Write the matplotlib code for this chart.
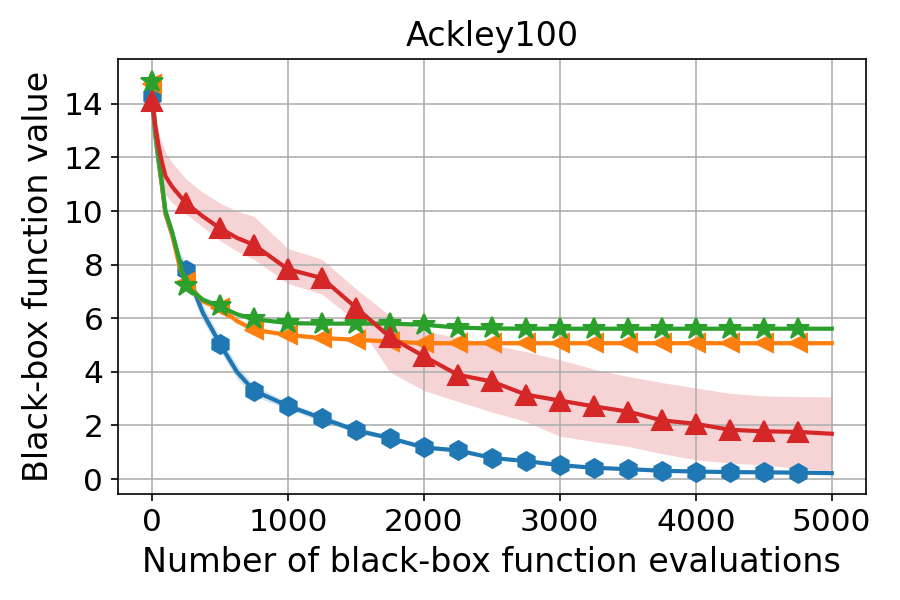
import numpy as np
import matplotlib.pyplot as plt

# evaluations at which the curves were read (dense at the start where they drop fast)
evals = [0, 25, 50, 75, 100, 150, 200, 250, 375, 500, 625, 750, 1000, 1250, 1500,
         1750, 2000, 2250, 2500, 2750, 3000, 3250, 3500, 3750, 4000, 4250, 4500,
         4750, 5000]

blue_mean = [14.3, 12.8, 11.8, 10.9, 9.9, 9.1, 8.2, 7.8, 6.2, 5.05, 4.0, 3.3, 2.73,
             2.27, 1.82, 1.53, 1.18, 1.07, 0.79, 0.67, 0.52, 0.42, 0.37, 0.31, 0.28,
             0.26, 0.25, 0.24, 0.22]
blue_lo = [14.2, 12.5, 11.5, 10.6, 9.6, 8.8, 7.9, 7.4, 5.9, 4.8, 3.75, 3.1, 2.6,
           2.15, 1.72, 1.45, 1.1, 1.0, 0.73, 0.62, 0.48, 0.38, 0.33, 0.28, 0.25,
           0.23, 0.22, 0.21, 0.19]
blue_hi = [14.4, 13.1, 12.1, 11.2, 10.2, 9.4, 8.5, 8.1, 6.5, 5.3, 4.25, 3.5, 2.86,
           2.4, 1.93, 1.62, 1.26, 1.14, 0.85, 0.72, 0.56, 0.46, 0.41, 0.34, 0.31,
           0.29, 0.28, 0.27, 0.25]

orange_mean = [14.75, 12.9, 11.9, 10.9, 9.9, 9.1, 8.0, 7.35, 6.63, 6.38, 5.9, 5.57,
               5.38, 5.26, 5.2, 5.13, 5.07, 5.07, 5.07, 5.07, 5.07, 5.07, 5.07,
               5.07, 5.07, 5.07, 5.07, 5.07, 5.07]
orange_lo = [14.7, 12.7, 11.7, 10.7, 9.7, 8.9, 7.8, 7.2, 6.5, 6.28, 5.8, 5.48,
             5.3, 5.18, 5.12, 5.06, 5.0, 5.0, 5.0, 5.0, 5.0, 5.0, 5.0, 5.0, 5.0,
             5.0, 5.0, 5.0, 5.0]
orange_hi = [14.8, 13.1, 12.1, 11.1, 10.1, 9.3, 8.2, 7.5, 6.76, 6.48, 6.0, 5.66,
             5.46, 5.34, 5.28, 5.2, 5.14, 5.14, 5.14, 5.14, 5.14, 5.14, 5.14, 5.14,
             5.14, 5.14, 5.14, 5.14, 5.14]

green_mean = [14.8, 13.0, 12.0, 11.0, 10.0, 9.2, 8.2, 7.2, 6.69, 6.44, 6.15, 5.97,
              5.82, 5.8, 5.8, 5.8, 5.76, 5.65, 5.62, 5.61, 5.61, 5.61, 5.61, 5.61,
              5.61, 5.61, 5.61, 5.61, 5.61]
green_lo = [14.75, 12.8, 11.8, 10.8, 9.8, 9.0, 8.0, 7.05, 6.57, 6.34, 6.06, 5.9,
            5.75, 5.73, 5.73, 5.73, 5.7, 5.59, 5.56, 5.55, 5.55, 5.55, 5.55, 5.55,
            5.55, 5.55, 5.55, 5.55, 5.55]
green_hi = [14.85, 13.2, 12.2, 11.2, 10.2, 9.4, 8.4, 7.35, 6.81, 6.54, 6.24, 6.04,
            5.89, 5.87, 5.87, 5.87, 5.82, 5.71, 5.68, 5.67, 5.67, 5.67, 5.67, 5.67,
            5.67, 5.67, 5.67, 5.67, 5.67]

red_mean = [14.1, 13.2, 12.4, 11.8, 11.3, 10.9, 10.6, 10.3, 9.8, 9.36, 9.0, 8.74,
            7.83, 7.5, 6.4, 5.3, 4.58, 3.89, 3.64, 3.15, 2.93, 2.71, 2.52, 2.19,
            2.06, 1.84, 1.78, 1.76, 1.69]
red_lo = [14.0, 12.6, 11.7, 11.0, 10.6, 10.3, 10.1, 9.9, 9.4, 8.9, 8.5, 8.2, 7.3,
          6.9, 5.9, 4.0, 3.3, 2.9, 2.5, 2.15, 1.6, 1.4, 1.22, 0.95, 0.72, 0.6,
          0.53, 0.4, 0.3]
red_hi = [14.3, 13.6, 12.9, 12.5, 12.2, 11.8, 11.5, 11.2, 10.7, 10.3, 10.0, 9.8,
          8.6, 8.2, 7.1, 6.1, 5.5, 5.3, 5.0, 4.76, 4.45, 4.1, 3.83, 3.6, 3.4, 3.2,
          3.1, 3.08, 3.06]

series = [
    (blue_mean, blue_lo, blue_hi, "#1f77b4", "h", 9),
    (orange_mean, orange_lo, orange_hi, "#ff7f0e", "<", 9),
    (green_mean, green_lo, green_hi, "#2ca02c", "*", 11),
    (red_mean, red_lo, red_hi, "#d62728", "^", 10),
]

x = np.array(evals)
# markers every 250 evaluations, last one at 4750
mark_idx = [i for i, e in enumerate(evals) if e % 250 == 0 and e < 5000]

fig, ax = plt.subplots(figsize=(6, 4), dpi=150)
fig.subplots_adjust(left=0.131, right=0.962, bottom=0.177, top=0.902)

for mean, lo, hi, color, marker, ms in series:
    ax.fill_between(x, lo, hi, color=color, alpha=0.2, linewidth=0, zorder=1)
for mean, lo, hi, color, marker, ms in series:
    ax.plot(x, mean, color=color, linewidth=2, marker=marker, markersize=ms,
            markevery=mark_idx, zorder=2)

ax.set_xlim(-250, 5250)
ax.set_ylim(-0.55, 15.68)
ax.set_yticks([0, 2, 4, 6, 8, 10, 12, 14])
ax.set_xticks([0, 1000, 2000, 3000, 4000, 5000])
ax.grid(True, color="#b0b0b0", linewidth=0.8)
ax.tick_params(labelsize=15)

ax.set_title("Ackley100", fontsize=16)
ax.set_xlabel("Number of black-box function evaluations", fontsize=16)
ax.set_ylabel("Black-box function value", fontsize=16)

fig.savefig("out.png", dpi=150)
